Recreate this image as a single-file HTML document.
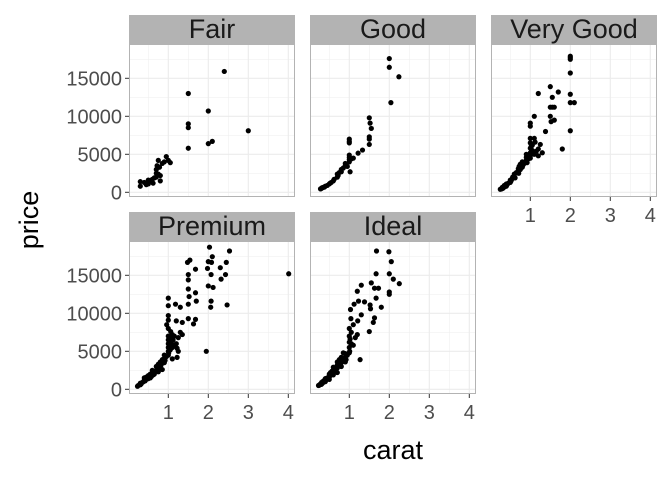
<!DOCTYPE html>
<html><head><meta charset="utf-8"><style>
html,body{margin:0;padding:0;background:#fff;}
svg text{font-family:"Liberation Sans",sans-serif;}
</style></head><body>
<svg id="chart" width="672" height="480" viewBox="0 0 672 480"></svg>
<script>
const facets = ["Fair","Good","Very Good","Premium","Ideal"];
const xTicks = [1,2,3,4];
const yTicks = [0,5000,10000,15000];
const fairCarat = [0.3,0.3,0.4,0.45,0.5,0.55,0.6,0.62,0.7,0.7,0.7,0.72,0.75,0.75,0.78,0.8,0.8,0.85,0.9,0.95,1.0,1.05,1.5,1.5,1.5,1.5,2.0,2.0,2.1,2.4,3.0,0.5,0.65];
const fairPrice = [800,1400,1300,1000,1100,1500,1700,1200,2000,2500,3000,3500,2400,4200,3300,2200,1500,3800,4000,4700,4200,3900,5800,8500,9000,13000,10700,6400,6700,15900,8100,1600,1900];
const goodCarat = [0.28,0.3,0.32,0.35,0.38,0.4,0.45,0.5,0.52,0.55,0.6,0.62,0.7,0.7,0.72,0.75,0.8,0.8,0.85,0.9,0.9,0.95,1.0,1.0,1.0,1.0,1.0,1.0,1.0,1.02,1.05,1.1,1.22,1.33,1.5,1.5,1.5,1.5,1.52,1.55,2.0,2.0,2.04,2.24];
const goodPrice = [450,500,600,650,700,800,900,1100,1200,1300,1500,1700,2000,2400,2200,2600,2700,3000,3200,3500,3800,3400,4000,4300,4600,4900,6500,6700,7000,2700,4400,4500,5150,5560,6300,7000,7300,9800,9100,8400,17600,16450,11800,15200];
const vgCarat = [0.25,0.28,0.3,0.3,0.32,0.35,0.35,0.4,0.4,0.42,0.45,0.5,0.5,0.52,0.55,0.56,0.6,0.6,0.62,0.65,0.7,0.7,0.71,0.72,0.75,0.75,0.8,0.8,0.82,0.85,0.9,0.9,0.9,0.92,0.95,1.0,1.0,1.0,1.0,1.0,1.0,1.01,1.02,1.05,1.05,1.1,1.1,1.12,1.15,1.2,1.2,1.25,1.3,1.38,1.5,1.5,1.5,1.52,1.55,1.55,1.6,1.6,1.7,1.8,2.0,2.0,2.0,2.0,2.0,2.0,2.0,2.1,1.2,1.1,1.0];
const vgPrice = [400,450,500,650,550,700,900,800,1100,1000,1200,1300,1600,1500,1800,2000,2100,2400,1900,2600,2800,3100,2500,3400,3000,3700,3300,4000,3600,3800,4200,4600,5000,3900,4400,4500,5200,5800,6500,7100,9100,4900,6000,5500,6200,5000,7100,6600,5400,5700,4800,6300,5200,8000,10000,11200,13900,9300,12500,11200,9500,11200,13200,5700,17900,17700,17500,15700,12900,11800,8100,11800,13000,10000,8700];
const premCarat = [0.23,0.25,0.3,0.3,0.32,0.35,0.38,0.4,0.4,0.42,0.45,0.5,0.5,0.52,0.55,0.58,0.6,0.6,0.62,0.65,0.7,0.7,0.72,0.75,0.75,0.8,0.8,0.82,0.85,0.9,0.9,0.9,0.92,0.95,1.0,1.0,1.0,1.0,1.0,1.0,1.0,1.01,1.02,1.03,1.05,1.05,1.08,1.1,1.1,1.12,1.15,1.2,1.22,1.25,1.3,1.35,2.03,2.53,2.1,1.54,1.48,2.0,2.08,2.45,1.68,1.98,2.3,4.01,1.5,1.5,2.07,2.43,2.32,2.0,2.12,1.5,1.68,1.52,2.07,1.7,1.5,1.0,1.0,1.18,1.3,2.47,2.06,1.5,1.68,1.63,1.0,1.0,1.2,1.35,1.95,1.22,0.96,1.06,0.45,0.55,0.65,0.75,0.85,1.1,1.15,1.25];
const premPrice = [400,500,600,800,700,900,1000,1200,1500,1100,1300,1400,1800,1600,2000,1700,2100,2500,1900,2300,2500,3000,2800,2700,3300,3000,3600,3200,3900,3500,4000,4500,3800,4300,4500,5000,5500,6000,6500,7000,8000,4800,5800,6300,5200,6800,6000,5500,7200,6500,7000,6000,5400,6800,7500,7200,18700,18200,17450,17000,16700,16800,16700,16700,15800,15900,16000,15200,15100,14400,15100,15100,14500,13600,13400,13200,12700,12200,11600,11600,11200,12000,11000,11200,10800,11100,10800,9300,9200,8600,9700,9100,9000,8800,5000,4200,8500,7600,1600,1500,2000,2300,2600,4000,5800,5000];
const idealCarat = [0.23,0.25,0.26,0.28,0.3,0.3,0.31,0.32,0.33,0.35,0.36,0.38,0.4,0.4,0.42,0.45,0.5,0.5,0.52,0.53,0.55,0.57,0.6,0.6,0.62,0.65,0.7,0.7,0.7,0.72,0.75,0.75,0.78,0.8,0.8,0.85,0.9,0.9,0.92,0.95,1.0,1.0,1.0,1.0,1.0,1.01,1.02,1.05,1.05,1.1,1.1,1.15,1.2,1.21,1.68,1.99,2.05,2.0,1.67,2.1,2.25,1.3,1.55,1.2,1.63,1.73,2.0,2.0,1.67,1.23,1.38,1.12,1.52,1.8,1.03,1.53,1.3,1.63,1.6,1.27,0.85,1.04,1.5,0.4,0.5,0.6,0.7,0.8,0.9];
const idealPrice = [500,550,600,700,650,800,900,750,1000,900,1100,1200,1000,1400,1300,1500,1600,2000,1800,2200,2100,2400,2500,2900,2300,2700,2800,3200,3600,3000,3400,3900,3700,3500,4200,4000,4200,4700,3900,4500,4800,5500,6200,7000,8000,5000,6600,6000,7500,5800,8500,6800,7200,9000,18200,18100,16800,15200,15200,14500,13900,13700,14000,12900,13300,13300,12800,12500,12000,11600,11500,11200,11100,10800,10500,10600,9800,9400,8800,3900,4800,9300,7600,1100,1300,1900,2200,3000,3600];
const dataX = [fairCarat,goodCarat,vgCarat,premCarat,idealCarat];
const dataY = [fairPrice,goodPrice,vgPrice,premPrice,idealPrice];

const NS="http://www.w3.org/2000/svg";
const svg=document.getElementById('chart');
function mk(tag,attrs,parent){const e=document.createElementNS(NS,tag);for(const k in attrs)e.setAttribute(k,attrs[k]);(parent||svg).appendChild(e);return e;}
const colL=[129,310,491], PW=166, rowT=[44,241], PH=153;
function xs(c,col){return colL[col]+39.3+(c-1)*40;}
function ys(p,row){return rowT[row]+148.3-p/5000*38;}
facets.forEach((name,i)=>{
  const col=i%3,row=Math.floor(i/3);
  const L=colL[col],T=rowT[row];
  const g=mk('g',{});
  
  
  mk('rect',{x:L,y:T,width:PW,height:PH,fill:'#fff'},g);
  [0.5,1.5,2.5,3.5].forEach(v=>mk('line',{x1:xs(v,col),x2:xs(v,col),y1:T,y2:T+PH,stroke:'#f0f0f0','stroke-width':0.6},g));
  [2500,7500,12500,17500].forEach(v=>mk('line',{x1:L,x2:L+PW,y1:ys(v,row),y2:ys(v,row),stroke:'#f0f0f0','stroke-width':0.6},g));
  xTicks.forEach(v=>mk('line',{x1:xs(v,col),x2:xs(v,col),y1:T,y2:T+PH,stroke:'#ebebeb','stroke-width':1.1},g));
  yTicks.forEach(v=>mk('line',{x1:L,x2:L+PW,y1:ys(v,row),y2:ys(v,row),stroke:'#ebebeb','stroke-width':1.1},g));
  const xd=dataX[i],yd=dataY[i];
  for(let k=0;k<xd.length;k++){
    const c=mk('circle',{cx:xs(xd[k],col),cy:ys(yd[k],row),r:2.6,fill:'#000'},g);
    
    
  }
  mk('rect',{x:L+0.5,y:T+0.5,width:PW-1,height:PH-1,fill:'none',stroke:'#b3b3b3','stroke-width':1},g);
  const s=mk('rect',{x:L,y:T-29,width:PW,height:29,fill:'#b3b3b3'},g);
  
  
  const t=mk('text',{x:L+PW/2,y:T-6,'text-anchor':'middle','font-size':27,fill:'#1a1a1a'},g);
  t.textContent=name;
  
  
  if(col===0){
    yTicks.forEach(v=>{
      mk('line',{x1:125,x2:L,y1:ys(v,row),y2:ys(v,row),stroke:'#333','stroke-width':1},g);
      const yt=mk('text',{x:122,y:ys(v,row)+7,'text-anchor':'end','font-size':20,fill:'#4d4d4d'},g);
      yt.textContent=v;
      
      
    });
  }
  if(row===1||col===2){
    xTicks.forEach(v=>{
      mk('line',{x1:xs(v,col),x2:xs(v,col),y1:T+PH,y2:T+PH+4,stroke:'#333','stroke-width':1},g);
      const xt=mk('text',{x:xs(v,col),y:T+PH+25,'text-anchor':'middle','font-size':20,fill:'#4d4d4d'},g);
      xt.textContent=v;
      
      
    });
  }
});
const xl=mk('text',{x:393,y:459,'text-anchor':'middle','font-size':27,fill:'#000'});
xl.textContent='carat';


const yl=mk('text',{x:38,y:220,'text-anchor':'middle','font-size':27,fill:'#000',transform:'rotate(-90 38 220)'});
yl.textContent='price';


</script>
</body></html>
